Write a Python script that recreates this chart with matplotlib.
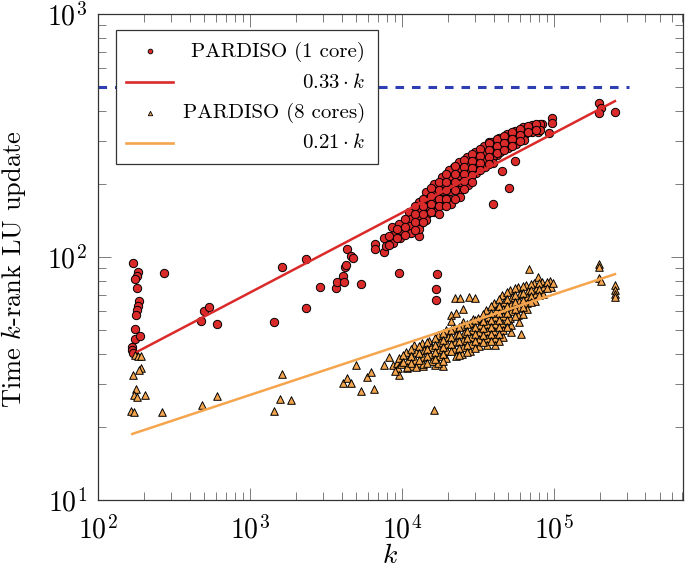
import numpy as np
import matplotlib
matplotlib.use('Agg')
import matplotlib.pyplot as plt
from matplotlib.patches import Rectangle
from matplotlib.ticker import NullFormatter

plt.rcParams['font.family'] = 'serif'
plt.rcParams['font.serif'] = ['cmr10']
plt.rcParams['mathtext.fontset'] = 'cm'
plt.rcParams['axes.formatter.use_mathtext'] = True

# PARDISO (1 core): k, time
k_1core = [
    # small k
    171, 184, 181, 174, 180, 185, 183, 180, 177, 272, 175, 174, 189, 167, 167, 169,
    # sparse middle
    474, 500, 537, 609, 1617, 1445, 2336, 2346, 2904, 3665, 3750, 4070, 4170, 4215,
    4285, 4368, 4617, 4740, 5346, 6610, 6610, 7580, 8130, 9550, 17000, 16750, 16670,
    # around the dense band
    10570, 12000, 13000, 13490, 15520, 17780, 22080, 24940, 30690, 37190, 42370,
    45290, 39510, 50580, 55390, 68500, 83000, 97500, 97500, 93100, 78900,
    198700, 203000, 198700, 251800,
    # dense band
    7650, 7850, 8600, 8850, 8700, 9600, 9850, 9750,
    11150, 11450, 11250, 11400, 12950, 13350, 13100, 13300, 13000,
    14400, 14800, 14550, 14700, 14450, 16250, 16700, 16400, 16600, 16300,
    18400, 18850, 18550, 18750, 18500, 20400, 21000, 20650, 20850, 20500, 20900,
    23800, 24400, 24000, 24300, 23900, 24200, 26900, 27500, 27100, 27400, 27000,
    30400, 31000, 30600, 30900, 34800, 35500, 35100, 35400,
    39300, 40100, 39600, 39900, 43800, 44600, 44200, 49400, 50200, 49800,
    55800, 56700, 56200, 63000, 64000, 63500, 71200, 72200, 80400, 81400,
    8210, 8210, 9270, 9270, 10470, 10470, 10470,
    12200, 12200, 12200, 12200, 13740, 13740, 13740, 13740,
    15520, 15520, 15520, 15520, 17510, 17510, 17510, 17510, 17510,
    19460, 19460, 19460, 19460, 19460, 22320, 22320, 22320, 22320, 22320,
    25580, 25580, 25580, 25580, 25580, 28880, 28880, 28880, 28880, 28880,
    32590, 32590, 32590, 32590, 37330, 37330, 37330, 37330,
    42170, 42170, 42170, 46880, 46880, 46880, 52960, 52960, 52960,
    59750, 59750, 59750, 67430, 67430, 76190, 76190,
]
t_1core = [
    94.5, 86.5, 83.6, 81.3, 74.5, 65.9, 63.0, 60.3, 57.6, 86.2, 50.4, 46.1, 47.3, 42.7, 41.4, 40.1,
    54.5, 59.8, 62.2, 53.1, 91.0, 53.8, 97.8, 61.8, 75.3, 74.5, 79.1, 83.2, 79.1, 90.7,
    92.4, 108, 101, 99.4, 77.3, 113, 108, 105, 118.5, 85.7, 84.9, 73.9, 66.7,
    134, 137, 122, 158, 175, 174, 234, 247, 256, 296, 262,
    226, 165, 192, 248, 340, 353, 372, 355, 325, 328,
    429, 412, 393, 394,
    120, 111, 133, 123, 114, 137, 128, 120,
    153, 143, 134, 125, 168, 157, 147, 138, 130,
    185, 173, 162, 151, 142, 199, 187, 174, 164, 153,
    213, 199, 187, 174, 164, 228, 213, 199, 187, 174, 165,
    246, 230, 215, 201, 189, 176, 258, 241, 226, 211, 198,
    271, 253, 237, 221, 286, 268, 251, 235,
    297, 278, 261, 244, 309, 289, 271, 321, 300, 281,
    330, 309, 292, 342, 321, 303, 349, 327, 352, 333,
    122, 112, 130, 120, 144, 133, 123,
    162, 150, 139, 129, 174, 162, 150, 139,
    193, 178, 165, 153, 203, 189, 174, 162, 151,
    220, 203, 189, 174, 162, 237, 220, 203, 189, 174,
    251, 235, 220, 205, 191, 265, 249, 232, 217, 203,
    278, 261, 244, 228, 295, 276, 258, 241,
    306, 286, 268, 315, 294, 276, 327, 306, 286,
    336, 318, 300, 346, 327, 352, 333,
]

# PARDISO (8 cores): k, time
k_8cores = [
    # small k
    175, 184, 191, 192, 186, 171, 178, 173, 181, 204, 166, 173, 262,
    # sparse middle
    486, 609, 1625, 1583, 1854, 1445, 4958, 4110, 4368, 4617, 5346, 5857, 6252, 6575,
    7580, 8210, 8685, 9230, 9455, 9550, 9035, 16330, 10830, 11580, 12800, 13680,
    15130, 18530, 16570,
    22320, 24080, 27720, 30360, 25060, 21000, 22650, 21000, 25300, 29450,
    68800, 78900, 60630,
    198700, 198700, 198700, 203000, 251800, 251800, 251800, 251800,
    # dense band
    9600, 9850, 10700, 10950, 10800, 12050, 12400, 12150, 12300,
    13600, 13900, 13700, 13850, 15600, 15400, 15700,
    17300, 17700, 17450, 17600, 17350, 19550, 20000, 19700, 19900, 19600,
    22050, 22600, 22300, 22150, 22500, 24900, 25500, 25100, 25350, 25000,
    28100, 28750, 28300, 28650, 28200, 31800, 32400, 32000, 32300, 31900,
    35900, 36600, 36100, 36500, 36000, 36400,
    40500, 41300, 40800, 41200, 40600, 41100, 40700,
    45700, 46600, 46000, 46500, 45800, 46400, 45900,
    51600, 52600, 51900, 52400, 51700, 52500, 51800,
    58300, 59400, 58600, 59200, 58400, 59300,
    65900, 67000, 66200, 66800, 66000, 74400, 75600, 74700, 75300,
    84000, 85300, 84600, 94700, 96300,
    10160, 10160, 11460, 11460, 11460, 12940, 12940, 12940,
    14590, 14590, 14590, 14590, 16480, 16480, 16480, 16480,
    18620, 18620, 18620, 18620, 18620, 21000, 21000, 21000, 21000,
    23710, 23710, 23710, 23710, 23710, 26770, 26770, 26770, 26770, 26770,
    30220, 30220, 30220, 30220, 30220, 34120, 34120, 34120, 34120, 34120,
    38530, 38530, 38530, 38530, 38530, 38530,
    43500, 43500, 43500, 43500, 43500, 43500, 43500,
    49110, 49110, 49110, 49110, 49110, 49110,
    55390, 55390, 55390, 55390, 55390, 62530, 62530, 62530, 62530, 62530,
    70600, 70600, 70600, 70600, 79690, 79690, 79690, 89930, 89930, 98420,
]
t_8cores = [
    39.5, 39.2, 39.1, 34.8, 34.3, 32.6, 28.6, 27.0, 26.6, 27.0, 23.2, 23.1, 23.1,
    24.6, 26.8, 33.0, 26.1, 25.8, 23.3, 35.9, 30.4, 31.7, 30.4, 28.2, 32.1, 33.7, 28.7,
    35.9, 38.6, 35.8, 36.7, 34.8, 32.6, 34.0, 23.5, 34.8, 35.6, 36.5, 35.6,
    45.1, 35.6, 35.9,
    67.6, 67.6, 68.7, 67.6, 61.0, 57.7, 59.0, 54.7, 54.2, 55.5,
    89.0, 82.6, 48.3,
    93.6, 91.2, 81.7, 79.8, 76.7, 73.1, 70.5, 68.4,
    38.4, 36.3, 40.6, 37.7, 35.3, 43.4, 40.6, 37.7, 35.3,
    44.3, 41.4, 38.8, 36.3, 42.6, 39.9, 37.3,
    47.8, 44.7, 41.8, 39.2, 36.6, 50.1, 46.9, 43.9, 41.0, 38.4,
    51.0, 47.8, 44.7, 41.8, 39.2, 52.0, 48.7, 45.5, 42.6, 39.9,
    53.5, 50.1, 46.9, 43.9, 41.0, 56.1, 52.5, 49.1, 46.0, 43.0,
    60.5, 56.6, 53.0, 49.6, 46.4, 43.4,
    64.7, 60.5, 56.6, 53.0, 49.6, 46.4, 43.4,
    69.8, 65.3, 61.1, 57.2, 53.5, 50.1, 46.9,
    73.1, 68.4, 64.1, 60.0, 56.1, 52.5, 49.1,
    75.3, 70.4, 65.9, 61.7, 57.7, 54.0,
    76.7, 72.4, 68.4, 64.7, 61.1, 78.2, 73.8, 69.8, 65.9,
    78.9, 74.5, 70.4, 79.6, 75.3,
    39.5, 37.0, 41.8, 39.2, 36.6, 43.0, 40.2, 37.7,
    44.7, 41.8, 39.2, 36.6, 46.4, 43.4, 40.6, 38.0,
    48.7, 45.5, 42.6, 39.9, 37.3, 50.1, 46.9, 43.9, 41.0,
    51.5, 48.2, 45.1, 42.2, 39.5, 53.0, 49.6, 46.4, 43.4, 40.6,
    55.1, 51.5, 48.2, 45.1, 42.2, 58.3, 54.6, 51.0, 47.8, 44.7,
    62.9, 58.8, 55.1, 51.5, 48.2, 45.1,
    67.2, 62.9, 58.8, 55.1, 51.5, 48.2, 45.1,
    71.7, 67.2, 62.9, 58.8, 55.1, 51.5,
    74.5, 69.8, 65.3, 61.1, 57.2, 76.0, 71.1, 66.5, 62.3, 58.3,
    77.4, 73.1, 69.1, 65.3, 78.2, 73.8, 69.8, 78.9, 74.5, 78.2,
]

# fitted lines (end points)
k_fit1 = [175, 251800]
t_fit1 = [40.3, 438]
k_fit8 = [168, 251800]
t_fit8 = [18.7, 85]

# limit line
k_limit = [100, 311000]
t_limit = [500, 500]

legend_labels = ['PARDISO (1 core)', r'$0.33 \cdot k$', 'PARDISO (8 cores)', r'$0.21 \cdot k$']

red = '#DA2A2A'
orange = '#F5A54E'
blue = '#2D3FB3'

fig = plt.figure(figsize=(6.85, 5.75), dpi=100)
ax = fig.add_axes([98 / 685, 75 / 575, 585 / 685, 486 / 575])

ax.plot(k_limit, t_limit, color=blue, lw=2.2, dashes=(2.8, 2.6), zorder=2)
ax.scatter(k_1core, t_1core, s=36, marker='o', facecolor=red, edgecolor='black',
           linewidths=0.7, zorder=3)
ax.plot(k_fit1, t_fit1, color=red, lw=1.8, zorder=4)
ax.scatter(k_8cores, t_8cores, s=30, marker='^', facecolor=orange, edgecolor='black',
           linewidths=0.7, zorder=5)
ax.plot(k_fit8, t_fit8, color=orange, lw=1.8, zorder=6)

ax.set_xscale('log')
ax.set_yscale('log')
ax.set_xlim(100, 7.06e5)
ax.set_ylim(10, 1000)
ax.xaxis.set_minor_formatter(NullFormatter())
ax.yaxis.set_minor_formatter(NullFormatter())

ax.tick_params(which='both', direction='in', top=True, right=True,
               color='#666666', width=0.6, labelsize=20)
ax.tick_params(which='major', length=9)
ax.tick_params(which='minor', length=6)
ax.tick_params(axis='x', which='major', pad=11)
ax.tick_params(axis='y', which='major', pad=8)
for sp in ax.spines.values():
    sp.set_color('#333333')
    sp.set_linewidth(0.9)

ax.set_xlabel('$k$', fontsize=20)
ax.set_ylabel('Time $k$-rank LU update', fontsize=19)
ax.xaxis.set_label_coords(0.5, -0.088)
ax.yaxis.set_label_coords(-0.12, 0.474)

# legend box drawn by hand (right aligned labels)
ax.add_patch(Rectangle((0.0308, 0.6914), 0.4478, 0.2763, transform=ax.transAxes,
                       facecolor='white', edgecolor='#333333', lw=0.9, zorder=10))
rows = [0.9122, 0.8471, 0.7854, 0.7237]
ax.plot([0.0889], [0.9245], transform=ax.transAxes, marker='o', ms=3.4, color=red,
        mec='black', mew=0.6, ls='none', zorder=11, clip_on=False)
ax.plot([0.0479, 0.1282], [0.8607, 0.8607], transform=ax.transAxes, color=red,
        lw=1.9, zorder=11, clip_on=False)
ax.plot([0.0889], [0.7963], transform=ax.transAxes, marker='^', ms=3.2, color=orange,
        mec='black', mew=0.6, ls='none', zorder=11, clip_on=False)
ax.plot([0.0479, 0.1282], [0.7346, 0.7346], transform=ax.transAxes, color=orange,
        lw=1.9, zorder=11, clip_on=False)
for y, lab in zip(rows, legend_labels):
    ax.text(0.4564, y, lab, transform=ax.transAxes, ha='right', va='baseline',
            fontsize=15, zorder=12)

fig.savefig('out.png', dpi=100)
